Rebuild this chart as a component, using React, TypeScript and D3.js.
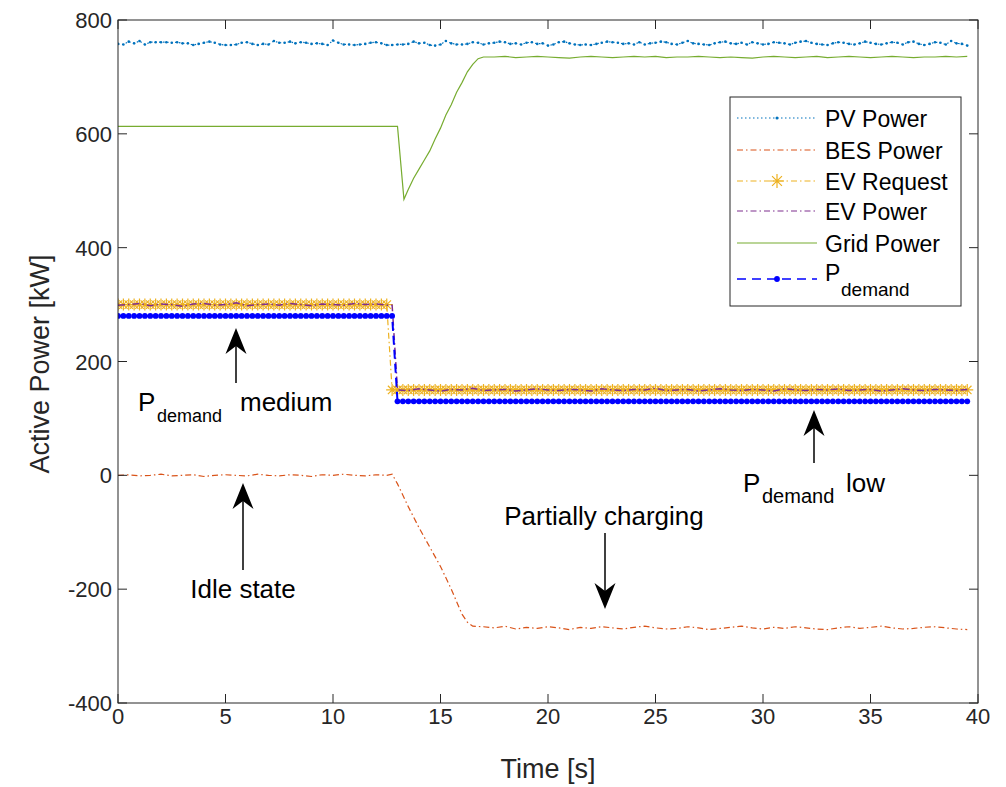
import React from "react";
import * as d3 from "d3";

// ---------------- DATA ----------------
const xTicks = [0, 5, 10, 15, 20, 25, 30, 35, 40];
const yTicks = [-400, -200, 0, 200, 400, 600, 800];

const sampleStep = 0.25; // marker spacing in seconds
const halfStep = 0.5;

// PV Power (every 0.25 s from 0 to 39.5)
const pvPower = [
  758, 757, 762, 759, 763, 757, 761, 761, 761, 761, 760, 761, 759, 759, 756, 758, 760, 762, 760, 757,
  756, 756, 757, 760, 761, 758, 756, 758, 757, 763, 760, 760, 762, 759, 761, 760, 758, 759, 758, 756,
  764, 760, 757, 757, 756, 757, 758, 760, 761, 759, 756, 756, 757, 757, 758, 762, 759, 760, 756, 755,
  757, 763, 759, 757, 757, 758, 761, 760, 757, 759, 760, 762, 761, 758, 759, 757, 760, 761, 758, 759,
  755, 757, 761, 762, 759, 757, 756, 757, 756, 758, 760, 762, 761, 760, 758, 759, 757, 761, 757, 759,
  760, 762, 761, 758, 757, 760, 763, 759, 758, 757, 756, 759, 761, 762, 759, 758, 760, 757, 761, 759,
  757, 758, 761, 760, 759, 757, 760, 762, 763, 760, 758, 757, 756, 759, 761, 760, 758, 757, 759, 762,
  760, 758, 757, 759, 761, 760, 757, 761, 762, 758, 756, 758, 761, 760, 757, 763, 759, 758, 755,
];

// BES Power
const besIdle = [0, 1, -1, 0, 2, -1, 0, 1, -2, 0, 1, 0, -1, 2, 0, -1, 1, 0, -2, 1, 0, 2, 0, -1, 1, 0]; // 0..12.5 every 0.5 s
const besRampTimes = [12.75, 13.0, 13.5, 14.0, 14.5, 15.0, 15.5, 16.0, 16.25, 16.5, 17.0];
const besRampValues = [2, -15, -55, -92, -126, -160, -200, -244, -258, -265, -266];
const besCharging = [
  -268, -265, -270, -267, -269, -266, -268, -271, -267, -269, -266, -268, -270, -267, -265, -268, -270, -269,
  -266, -268, -271, -269, -267, -265, -268, -270, -267, -269, -266, -268, -270, -271, -268, -266, -269, -267,
  -265, -268, -270, -269, -267, -266, -268, -270, -271,
]; // 17.5..39.5 every 0.5 s

// EV Request (step levels)
const evRequestLevels = [300, 150];
const evRequestSwitch = 12.75; // first low sample
// P demand (step levels)
const demandLevels = [280, 130];
const demandSwitch = 13.0;
const endTime = 39.5;

// EV Power
const evPowerHigh = [299, 300, 302, 298, 301, 300, 297, 301, 302, 299, 300, 303, 298, 300, 301, 299, 302, 300, 298, 301, 300, 299, 302, 300, 301, 299]; // 0..12.5
const evPowerLow = [
  150, 149, 152, 150, 148, 151, 150, 153, 149, 150, 151, 148, 150, 152, 150, 149, 151, 150, 148, 152, 150, 149, 151, 150, 153, 149, 150,
  151, 148, 150, 152, 150, 149, 151, 150, 148, 152, 150, 149, 151, 150, 152, 149, 150, 151, 148, 150, 152, 150, 149, 151, 150, 149, 151,
]; // 13..39.5

// Grid Power
const gridStartTimes = [0, 13.0];
const gridStartValues = [613, 613];
const gridRecoveryTimes = [13.3, 13.5, 13.75, 14.0, 14.25, 14.5, 14.75, 15.0, 15.25, 15.5, 15.75, 16.0, 16.25, 16.5, 16.75, 17.0];
const gridRecoveryValues = [485, 502, 522, 538, 554, 570, 591, 610, 633, 651, 673, 690, 709, 722, 732, 735];
const gridSteady = [
  735, 736, 734, 735, 736, 735, 734, 733, 735, 736, 735, 734, 735, 736, 735, 736, 734, 735, 735, 736, 735, 734, 735,
  734, 733, 735, 736, 735, 734, 735, 736, 734, 735, 736, 735, 734, 735, 736, 735, 734, 735, 735, 736, 735, 736,
]; // 17.5..39.5

const legendLabels = ["PV Power", "BES Power", "EV Request", "EV Power", "Grid Power"];

// ---------------- HELPERS ----------------
type Pt = [number, number];
const evenly = (start: number, step: number, vals: number[]): Pt[] => vals.map((v, i) => [start + i * step, v]);
const zip = (ts: number[], vs: number[]): Pt[] => ts.map((t, i) => [t, vs[i]]);
const stepSeries = (levels: number[], switchT: number): Pt[] =>
  d3.range(0, endTime + 1e-9, sampleStep).map((t) => [t, t < switchT - 1e-9 ? levels[0] : levels[1]]);

const pvData = evenly(0, sampleStep, pvPower);
const besData = [...evenly(0, halfStep, besIdle), ...zip(besRampTimes, besRampValues), ...evenly(17.5, halfStep, besCharging)];
const evReqData = stepSeries(evRequestLevels, evRequestSwitch);
const demandData = stepSeries(demandLevels, demandSwitch);
const evPowerData = [...evenly(0, halfStep, evPowerHigh), [12.75, evPowerHigh[evPowerHigh.length - 1]] as Pt, ...evenly(13, halfStep, evPowerLow)];
const gridData = [...zip(gridStartTimes, gridStartValues), ...zip(gridRecoveryTimes, gridRecoveryValues), ...evenly(17.5, halfStep, gridSteady)];

// ---------------- STYLE ----------------
const W = 1006, H = 787;
const L = 118, R = 978, T = 20, B = 703;
const C = {
  pv: "#0072BD", bes: "#D95319", req: "#EDB120", ev: "#7E2F8E", grid: "#77AC30", dem: "#0000FF", axis: "#262626",
};
const FONT = "'Liberation Sans', Arial, Helvetica, sans-serif";

const Star = ({ x, y, s, color }: { x: number; y: number; s: number; color: string }) => {
  const d = s * 0.707;
  return (
    <path
      d={`M${x - s},${y}L${x + s},${y}M${x},${y - s}L${x},${y + s}M${x - d},${y - d}L${x + d},${y + d}M${x - d},${y + d}L${x + d},${y - d}`}
      stroke={color}
      strokeWidth={1.2}
      fill="none"
    />
  );
};

const Arrow = ({ x, y0, tip }: { x: number; y0: number; tip: number }) => {
  const dir = tip < y0 ? 1 : -1; // 1 = pointing up
  const len = 26, notch = 18, hw = 10.5;
  const base = tip + dir * len;
  const nb = tip + dir * notch;
  return (
    <g>
      <line x1={x} y1={y0} x2={x} y2={nb} stroke="#000" strokeWidth={1.5} />
      <path d={`M${x},${tip}L${x + hw},${base}L${x},${nb}L${x - hw},${base}Z`} fill="#000" />
    </g>
  );
};

export default function App() {
  const x = d3.scaleLinear().domain([0, 40]).range([L, R]);
  const y = d3.scaleLinear().domain([-400, 800]).range([B, T]);
  const line = d3.line<Pt>().x((d) => x(d[0])).y((d) => y(d[1]));

  const tickLen = 9;
  const legY = [118, 150, 181, 211, 243, 279];
  const legTextY = [127, 159, 190, 220, 252];
  const lx0 = 737, lx1 = 817, lxm = 777;

  return (
    <svg width={W} height={H} style={{ position: "absolute", left: 0, top: 0, background: "#fff" }} fontFamily={FONT}>
      <rect x={0} y={0} width={W} height={H} fill="#fff" />
      <defs>
        <clipPath id="plot">
          <rect x={L} y={T} width={R - L} height={B - T} />
        </clipPath>
      </defs>

      {/* series */}
      <g clipPath="url(#plot)">
        <path d={line(pvData) || ""} fill="none" stroke={C.pv} strokeWidth={1.2} strokeDasharray="1.5,2.5" />
        {pvData.map((d, i) => (
          <circle key={"pv" + i} cx={x(d[0])} cy={y(d[1])} r={1.3} fill={C.pv} />
        ))}
        <path d={line(besData) || ""} fill="none" stroke={C.bes} strokeWidth={1.2} strokeDasharray="6,3,1.5,3" />
        <path d={line(evReqData) || ""} fill="none" stroke={C.req} strokeWidth={1.2} strokeDasharray="6,3,1.5,3" />
        {evReqData.map((d, i) => (
          <Star key={"st" + i} x={x(d[0])} y={y(d[1])} s={6} color={C.req} />
        ))}
        <path d={line(evPowerData) || ""} fill="none" stroke={C.ev} strokeWidth={1.5} strokeDasharray="7,3,1.5,3" />
        <path d={line(gridData) || ""} fill="none" stroke={C.grid} strokeWidth={1.2} />
        <path d={line(demandData) || ""} fill="none" stroke={C.dem} strokeWidth={2} strokeDasharray="9,5" />
        {demandData.map((d, i) => (
          <circle key={"dm" + i} cx={x(d[0])} cy={y(d[1])} r={2.9} fill={C.dem} />
        ))}
      </g>

      {/* axes box and ticks */}
      <rect x={L} y={T} width={R - L} height={B - T} fill="none" stroke={C.axis} strokeWidth={1} />
      {xTicks.map((t) => (
        <g key={"xt" + t}>
          <line x1={x(t)} x2={x(t)} y1={B} y2={B - tickLen} stroke={C.axis} />
          <line x1={x(t)} x2={x(t)} y1={T} y2={T + tickLen} stroke={C.axis} />
          <text x={x(t)} y={724} textAnchor="middle" fontSize={22} fill={C.axis}>
            {t}
          </text>
        </g>
      ))}
      {yTicks.map((t) => (
        <g key={"yt" + t}>
          <line x1={L} x2={L + tickLen} y1={y(t)} y2={y(t)} stroke={C.axis} />
          <line x1={R} x2={R - tickLen} y1={y(t)} y2={y(t)} stroke={C.axis} />
          <text x={112} y={y(t) + 8} textAnchor="end" fontSize={22} fill={C.axis}>
            {t}
          </text>
        </g>
      ))}
      <text x={548} y={778} textAnchor="middle" fontSize={27} fill={C.axis}>
        Time [s]
      </text>
      <text transform="translate(49,364) rotate(-90)" textAnchor="middle" fontSize={27} fill={C.axis}>
        Active Power [kW]
      </text>

      {/* annotations */}
      <Arrow x={236} y0={383} tip={328} />
      <text x={138} y={411} fontSize={26} fill="#000">
        P<tspan x={157} dy={11} fontSize={18}>demand</tspan>
        <tspan x={240} dy={-11}>medium</tspan>
      </text>

      <Arrow x={243} y0={570} tip={483} />
      <text x={243} y={598} textAnchor="middle" fontSize={26} fill="#000">Idle state</text>

      <text x={604} y={525} textAnchor="middle" fontSize={26} fill="#000">Partially charging</text>
      <Arrow x={605} y0={533} tip={609} />

      <Arrow x={814} y0={463} tip={410} />
      <text x={743} y={492} fontSize={26} fill="#000">
        P<tspan x={762} dy={11} fontSize={20}>demand</tspan>
        <tspan x={846} dy={-11}>low</tspan>
      </text>

      {/* legend */}
      <rect x={730} y={97} width={231} height={209} fill="#fff" stroke={C.axis} strokeWidth={1} />
      <line x1={lx0} x2={lx1} y1={legY[0]} y2={legY[0]} stroke={C.pv} strokeWidth={1.2} strokeDasharray="1.5,2.5" />
      <circle cx={lxm} cy={legY[0]} r={1.5} fill={C.pv} />
      <line x1={lx0} x2={lx1} y1={legY[1]} y2={legY[1]} stroke={C.bes} strokeWidth={1.2} strokeDasharray="6,3,1.5,3" />
      <line x1={lx0} x2={lx1} y1={legY[2]} y2={legY[2]} stroke={C.req} strokeWidth={1.2} strokeDasharray="6,3,1.5,3" />
      <Star x={lxm} y={legY[2]} s={7} color={C.req} />
      <line x1={lx0} x2={lx1} y1={legY[3]} y2={legY[3]} stroke={C.ev} strokeWidth={1.2} strokeDasharray="6,3,1.5,3" />
      <line x1={lx0} x2={lx1} y1={legY[4]} y2={legY[4]} stroke={C.grid} strokeWidth={1.2} />
      <line x1={lx0} x2={lx1} y1={legY[5]} y2={legY[5]} stroke={C.dem} strokeWidth={1.5} strokeDasharray="9,6" />
      <circle cx={lxm} cy={legY[5]} r={2.9} fill={C.dem} />
      {legendLabels.map((lab, i) => (
        <text key={lab} x={825} y={legTextY[i]} fontSize={23} fill="#000">
          {lab}
        </text>
      ))}
      <text x={825} y={281} fontSize={23} fill="#000">
        P<tspan x={841} dy={15} fontSize={19}>demand</tspan>
      </text>
    </svg>
  );
}
